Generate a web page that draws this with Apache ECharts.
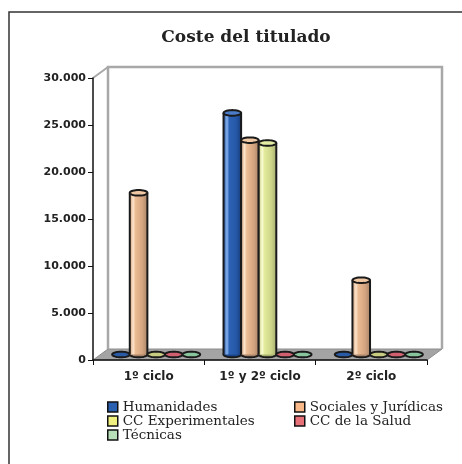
<!DOCTYPE html>
<html>
<head>
<meta charset="utf-8">
<title>Coste del titulado</title>
<script src="https://cdn.jsdelivr.net/npm/echarts@6/dist/echarts.min.js"></script>
<style>
  html, body { margin: 0; padding: 0; background: #fff; }
  #chart { width: 462px; height: 464px; }
</style>
</head>
<body>
<div id="chart"></div>
<script>
// datos
var categories = ['1º ciclo', '1º y 2º ciclo', '2º ciclo'];
var humanidades = [0, 25700, 0];
var sociales = [17200, 22800, 7900];
var experimentales = [0, 22500, 0];
var salud = [0, 0, 0];
var tecnicas = [0, 0, 0];
var seriesNames = ['Humanidades', 'Sociales y Jurídicas', 'CC Experimentales', 'CC de la Salud', 'Técnicas'];
var seriesValues = [humanidades, sociales, experimentales, salud, tecnicas];
var yMax = 30000;
var yStep = 5000;

// estilo
var GRID = { left: 93, top: 78, right: 35, bottom: 104 };
var DX = 15, DY = 11; // profundidad del efecto 3D
var W = 462, H = 464;
var palette = [
  { legend: '#2a60b0', top: '#4a7cc8', flat: '#2a5aa4', dark: '#1a4588',
    stops: ['#1d4f9a', '#8ab4f0', '#2c62b4', '#2658a8', '#173d7c'] },
  { legend: '#f8b888', top: '#f0c8a4', flat: '#e0b08c', dark: '#a88468',
    stops: ['#d4a47e', '#fde4cc', '#ecbc94', '#d4a480', '#a8866a'] },
  { legend: '#f0f080', top: '#e4eca4', flat: '#c8cc80', dark: '#a8b070',
    stops: ['#c4cc7c', '#fafcd4', '#e2ea9c', '#cdd588', '#a6ae6e'] },
  { legend: '#e87078', top: '#e07080', flat: '#d06070', dark: '#a84858',
    stops: ['#c05868', '#f8b0b8', '#e07080', '#d06070', '#a04050'] },
  { legend: '#b8e0b8', top: '#98d0a8', flat: '#88c49c', dark: '#689878',
    stops: ['#80b890', '#d8f0dc', '#a0d4ae', '#90c4a0', '#6a9a7a'] }
];

function ellipsePoints(cx, cy, rx, ry) {
  var pts = [];
  for (var i = 0; i < 36; i++) {
    var a = i / 36 * Math.PI * 2;
    pts.push([cx + rx * Math.cos(a), cy + ry * Math.sin(a)]);
  }
  return pts;
}

function cylinder(params, api) {
  var idx = params.seriesIndex;
  var pal = palette[idx];
  var base = api.coord([api.value(0), 0]);
  var top = api.coord([api.value(0), api.value(1)]);
  var band = api.size([1, 0])[0];
  var step = band * 0.158;
  var r = step / 2;
  var ry = 2.8;
  var cx = base[0] + (idx - 2) * step + DX / 2;
  var yb = base[1] - DY / 2;
  var yt = top[1] - DY / 2;
  var edge = { stroke: '#1a1a1a', lineWidth: 2 };
  var children = [];
  if (yb - yt < 1) {
    children.push({ type: 'polygon', shape: { points: ellipsePoints(cx, yb, r, ry) },
      style: { fill: pal.flat, stroke: edge.stroke, lineWidth: edge.lineWidth } });
    return { type: 'group', children: children };
  }
  var grad = new echarts.graphic.LinearGradient(0, 0, 1, 0, [
    { offset: 0, color: pal.stops[0] },
    { offset: 0.2, color: pal.stops[1] },
    { offset: 0.32, color: pal.stops[2] },
    { offset: 0.72, color: pal.stops[3] },
    { offset: 1, color: pal.stops[4] }
  ]);
  children.push({ type: 'polygon', shape: { points: ellipsePoints(cx, yb, r, ry) },
    style: { fill: pal.dark, stroke: edge.stroke, lineWidth: edge.lineWidth } });
  children.push({ type: 'rect', shape: { x: cx - r, y: yt, width: 2 * r, height: yb - yt },
    style: { fill: grad } });
  children.push({ type: 'line', shape: { x1: cx - r, y1: yt, x2: cx - r, y2: yb }, style: edge });
  children.push({ type: 'line', shape: { x1: cx + r, y1: yt, x2: cx + r, y2: yb }, style: edge });
  children.push({ type: 'polygon', shape: { points: ellipsePoints(cx, yt, r, ry) },
    style: { fill: pal.top, stroke: edge.stroke, lineWidth: edge.lineWidth } });
  return { type: 'group', children: children };
}

var x0 = GRID.left, x1 = W - GRID.right, y0 = GRID.top, y1 = H - GRID.bottom;

var legendCommon = {
  orient: 'vertical',
  icon: 'rect',
  padding: 0,
  itemWidth: 10,
  itemHeight: 10,
  itemGap: 0,
  selectedMode: false,
  itemStyle: { borderColor: '#111', borderWidth: 1.5 },
  textStyle: { fontFamily: 'DejaVu Serif', fontSize: 13.5, color: '#222', lineHeight: 14 }
};

var option = {
  animation: false,
  title: {
    text: 'Coste del titulado',
    left: 241,
    textAlign: 'center',
    top: 24,
    textStyle: { fontFamily: 'DejaVu Serif', fontWeight: 'bold', fontSize: 17, color: '#222' }
  },
  legend: [
    Object.assign({}, legendCommon, { left: 107, top: 400, data: [seriesNames[0], seriesNames[2], seriesNames[4]] }),
    Object.assign({}, legendCommon, { left: 294, top: 400, data: [seriesNames[1], seriesNames[3]] })
  ],
  grid: GRID,
  xAxis: {
    type: 'category',
    data: categories,
    axisLine: { lineStyle: { color: '#111', width: 1.5 } },
    axisTick: { show: true, length: 5, lineStyle: { color: '#111', width: 1 } },
    axisLabel: { margin: 11, fontFamily: 'DejaVu Sans', fontWeight: 'bold', fontSize: 12, color: '#222' },
    splitLine: { show: false }
  },
  yAxis: {
    type: 'value',
    min: 0,
    max: yMax,
    interval: yStep,
    axisLine: { show: true, lineStyle: { color: '#111', width: 1.5 } },
    axisTick: { show: true, length: 5, lineStyle: { color: '#111', width: 1 } },
    axisLabel: {
      margin: 7,
      fontFamily: 'DejaVu Sans',
      fontWeight: 'bold',
      fontSize: 11,
      color: '#222',
      formatter: function (v) { return String(v).replace(/\B(?=(\d{3})+(?!\d))/g, '.'); }
    },
    splitLine: { show: false }
  },
  graphic: [
    { type: 'rect', silent: true, z: -10,
      shape: { x: 9, y: 12, width: 480, height: 480 },
      style: { fill: 'none', stroke: '#333', lineWidth: 1.5 } },
    { type: 'polygon', silent: true, z: -5,
      shape: { points: [[x0, y1], [x0 + DX, y1 - DY], [x1 + DX, y1 - DY], [x1, y1]] },
      style: { fill: '#a4a4a4', stroke: '#8c8c8c', lineWidth: 1 } },
    { type: 'polyline', silent: true, z: -5,
      shape: { points: [[x0 + DX, y1 - DY], [x0 + DX, y0 - DY], [x1 + DX, y0 - DY], [x1 + DX, y1 - DY]] },
      style: { fill: 'none', stroke: '#a8a8a8', lineWidth: 2.5 } },
    { type: 'line', silent: true, z: -5,
      shape: { x1: x0, y1: y0, x2: x0 + DX, y2: y0 - DY },
      style: { stroke: '#a8a8a8', lineWidth: 2 } }
  ],
  series: seriesNames.map(function (name, i) {
    return {
      name: name,
      type: 'custom',
      renderItem: cylinder,
      itemStyle: { color: palette[i].legend },
      encode: { x: 0, y: 1 },
      data: seriesValues[i].map(function (v, k) { return [k, v]; }),
      z: 3
    };
  })
};

var myChart = echarts.init(document.getElementById('chart'));
myChart.setOption(option);
window.addEventListener('resize', function () { myChart.resize(); });
</script>
</body>
</html>
